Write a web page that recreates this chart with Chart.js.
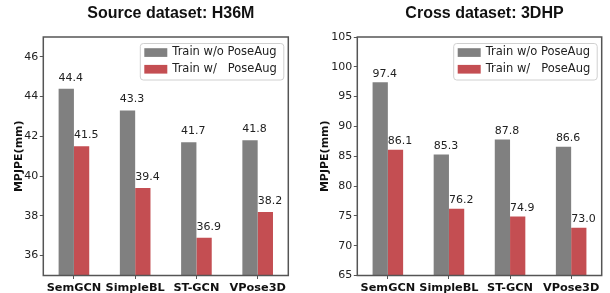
<!DOCTYPE html>
<html>
<head>
<meta charset="utf-8">
<script src="https://cdn.jsdelivr.net/npm/chart.js@4/dist/chart.umd.min.js"></script>
<style>
  html, body { margin: 0; padding: 0; background: #fff; }
  #wrap { position: relative; width: 610px; height: 293px; }
  .box { position: absolute; top: 0; height: 293px; }
</style>
</head>
<body>
<div id="wrap">
  <div class="box" style="left:0;width:305px"><canvas id="c1"></canvas></div>
  <div class="box" style="left:305px;width:305px"><canvas id="c2"></canvas></div>
</div>
<script>
const categories = ['SemGCN', 'SimpleBL', 'ST-GCN', 'VPose3D'];
const seriesLabels = ['Train w/o PoseAug', 'Train w/   PoseAug'];
const h36mWithout = [44.4, 43.3, 41.7, 41.8];
const h36mWith = [41.5, 39.4, 36.9, 38.2];
const dhpWithout = [97.4, 85.3, 87.8, 86.6];
const dhpWith = [86.1, 76.2, 74.9, 73.0];
const h36mTicks = [36, 38, 40, 42, 44, 46];
const dhpTicks = [65, 70, 75, 80, 85, 90, 95, 100, 105];

const GRAY = '#808080';
const RED = '#C44E52';
const SPINE = '#555555';
const FONT = "'DejaVu Sans', sans-serif";

function makeChart(id, title, a, b, ticks, yMin, yMax, cfg) {
  const extras = {
    id: 'extras',
    afterDraw(chart) {
      const ctx = chart.ctx;
      const ca = chart.chartArea;
      ctx.save();
      // spines
      ctx.strokeStyle = SPINE;
      ctx.lineWidth = 1.5;
      ctx.strokeRect(ca.left, ca.top, ca.right - ca.left, ca.bottom - ca.top);
      // value labels
      ctx.fillStyle = '#222';
      ctx.font = '11px ' + FONT;
      ctx.textAlign = 'left';
      ctx.textBaseline = 'middle';
      chart.data.datasets.forEach((ds, di) => {
        const meta = chart.getDatasetMeta(di);
        meta.data.forEach((bar, i) => {
          ctx.fillText(ds.data[i].toFixed(1), bar.x - bar.width / 2, bar.y - cfg.labelOff);
        });
      });
      // title
      ctx.fillStyle = '#111';
      ctx.font = 'bold 16px "Liberation Sans", Arial, sans-serif';
      ctx.textAlign = 'center';
      ctx.fillText(title, (ca.left + ca.right) / 2 + 5, 14);
      // legend
      const lw = 143.5, lh = 36.5;
      const lx = ca.right - 5 - lw, ly = ca.top + 6;
      ctx.strokeStyle = '#d0d0d0';
      ctx.lineWidth = 1;
      ctx.beginPath();
      ctx.roundRect(lx + 0.5, ly + 0.5, lw, lh, 3);
      ctx.fillStyle = 'rgba(255,255,255,0.85)';
      ctx.fill();
      ctx.stroke();
      ctx.font = '11.5px ' + FONT;
      ctx.textAlign = 'left';
      chart.data.datasets.forEach((ds, di) => {
        const cy = ly + 9.5 + di * 16.7;
        ctx.fillStyle = ds.backgroundColor;
        ctx.fillRect(lx + 4.5, cy - 4.3, 23, 8.7);
        ctx.fillStyle = '#222';
        ctx.fillText(ds.label, lx + 32.5, cy);
      });
      ctx.restore();
    }
  };
  return new Chart(document.getElementById(id), {
    type: 'bar',
    data: {
      labels: categories,
      datasets: [
        { label: seriesLabels[0], data: a, backgroundColor: GRAY },
        { label: seriesLabels[1], data: b, backgroundColor: RED }
      ]
    },
    options: {
      responsive: true,
      maintainAspectRatio: false,
      animation: false,
      devicePixelRatio: 1,
      layout: { padding: { left: 0, top: 37, right: cfg.padRight, bottom: 0 } },
      datasets: { bar: { categoryPercentage: 0.5, barPercentage: 1.0 } },
      plugins: { legend: { display: false }, title: { display: false }, tooltip: { enabled: false } },
      scales: {
        x: {
          offset: true,
          grid: { offset: false, drawOnChartArea: false, drawTicks: true, tickLength: 3.5, color: SPINE },
          border: { display: false },
          ticks: { color: '#111', padding: 2, autoSkip: false, font: { family: FONT, size: 11.3, weight: 'bold' }, maxRotation: 0 },
          afterFit(s) { s.height = 293 - 275.5; }
        },
        y: {
          min: yMin, max: yMax,
          afterBuildTicks(s) { s.ticks = ticks.map(v => ({ value: v })); },
          grid: { drawOnChartArea: false, drawTicks: true, tickLength: 3.5, color: SPINE },
          border: { display: false },
          ticks: { color: '#222', padding: 1.5, font: { family: FONT, size: 11 } },
          title: { display: true, text: 'MPJPE(mm)', color: '#111', font: { family: FONT, size: 11, weight: 'bold' }, padding: { top: cfg.titlePad, bottom: 0 } },
          afterFit(s) { s.width = cfg.yWidth; }
        }
      }
    },
    plugins: [extras]
  });
}

makeChart('c1', 'Source dataset: H36M', h36mWithout, h36mWith, h36mTicks, 35, 47,
  { padRight: 16.7, yWidth: 43.3, titlePad: 12.4, labelOff: 11 });
makeChart('c2', 'Cross dataset: 3DHP', dhpWithout, dhpWith, dhpTicks, 65, 105,
  { padRight: 8.3, yWidth: 52.3, titlePad: 14, labelOff: 8.3 });
</script>
</body>
</html>
